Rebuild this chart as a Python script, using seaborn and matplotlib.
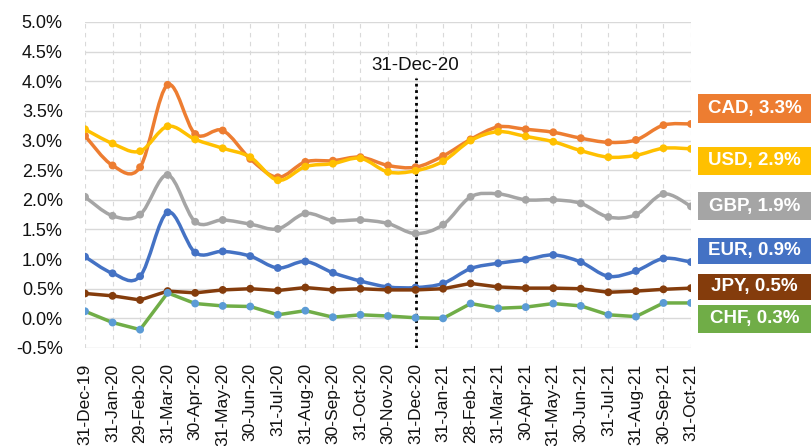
import numpy as np
import pandas as pd
import matplotlib
matplotlib.use("Agg")
import matplotlib.pyplot as plt
from matplotlib.path import Path
from matplotlib.patches import PathPatch, Rectangle
import seaborn as sns

dates = ["31-Dec-19", "31-Jan-20", "29-Feb-20", "31-Mar-20", "30-Apr-20", "31-May-20",
         "30-Jun-20", "31-Jul-20", "31-Aug-20", "30-Sep-20", "31-Oct-20", "30-Nov-20",
         "31-Dec-20", "31-Jan-21", "28-Feb-21", "31-Mar-21", "30-Apr-21", "31-May-21",
         "30-Jun-21", "31-Jul-21", "31-Aug-21", "30-Sep-21", "31-Oct-21"]

cad = [3.08, 2.58, 2.55, 3.94, 3.11, 3.17, 2.69, 2.38, 2.64, 2.66, 2.72, 2.58,
       2.55, 2.74, 3.02, 3.23, 3.19, 3.14, 3.04, 2.97, 3.01, 3.26, 3.28]
usd = [3.19, 2.95, 2.82, 3.24, 3.02, 2.87, 2.72, 2.33, 2.56, 2.61, 2.70, 2.47,
       2.49, 2.65, 3.00, 3.15, 3.07, 2.98, 2.83, 2.72, 2.75, 2.87, 2.86]
gbp = [2.05, 1.73, 1.75, 2.42, 1.63, 1.66, 1.59, 1.51, 1.77, 1.65, 1.66, 1.60,
       1.43, 1.58, 2.05, 2.10, 2.00, 2.00, 1.94, 1.71, 1.75, 2.10, 1.89]
eur = [1.04, 0.76, 0.71, 1.79, 1.11, 1.13, 1.05, 0.85, 0.96, 0.77, 0.63, 0.53,
       0.52, 0.59, 0.84, 0.93, 0.99, 1.07, 0.95, 0.71, 0.80, 1.01, 0.95]
jpy = [0.42, 0.38, 0.31, 0.46, 0.43, 0.48, 0.50, 0.47, 0.52, 0.48, 0.50, 0.48,
       0.48, 0.50, 0.59, 0.53, 0.51, 0.51, 0.50, 0.44, 0.46, 0.49, 0.51]
chf = [0.12, -0.07, -0.19, 0.43, 0.25, 0.21, 0.20, 0.06, 0.13, 0.02, 0.06, 0.04,
       0.01, 0.00, 0.25, 0.17, 0.19, 0.25, 0.21, 0.06, 0.03, 0.26, 0.26]

series_names = ["CAD", "USD", "GBP", "EUR", "JPY", "CHF"]
series_vals = [cad, usd, gbp, eur, jpy, chf]
end_labels = ["CAD, 3.3%", "USD, 2.9%", "GBP, 1.9%", "EUR, 0.9%", "JPY, 0.5%", "CHF, 0.3%"]
line_colors = ["#ED7D31", "#FFC000", "#A5A5A5", "#4472C4", "#843C0C", "#70AD47"]
marker_colors = ["#ED7D31", "#FFC000", "#A5A5A5", "#4472C4", "#843C0C", "#5B9BD5"]
smoothed = [True, True, True, True, False, False]
yticks = [-0.5, 0.0, 0.5, 1.0, 1.5, 2.0, 2.5, 3.0, 3.5, 4.0, 4.5, 5.0]
marker_date = "31-Dec-20"

sns.set_style("white")
plt.rcParams["font.family"] = ["Liberation Sans", "DejaVu Sans"]

W, H = 811, 446
fig = plt.figure(figsize=(W / 100, H / 100), dpi=100)
ax = fig.add_axes([85 / W, 1 - 348 / H, (691 - 85) / W, (348 - 22) / H])

x = np.arange(len(dates))
df = pd.DataFrame({"x": np.tile(x, len(series_names)),
                   "val": np.concatenate(series_vals),
                   "cur": np.repeat(series_names, len(dates))})


def smooth_path(xs, ys):
    pts = np.column_stack([xs, ys]).astype(float)
    n = len(pts)
    verts = [pts[0]]
    codes = [Path.MOVETO]
    for i in range(n - 1):
        p0 = pts[max(i - 1, 0)]
        p1 = pts[i]
        p2 = pts[i + 1]
        p3 = pts[min(i + 2, n - 1)]
        c1 = p1 + (p2 - p0) / 6.0
        c2 = p2 - (p3 - p1) / 6.0
        verts += [c1, c2, p2]
        codes += [Path.CURVE4] * 3
    return Path(verts, codes)


for k, name in enumerate(series_names):
    sub = df[df["cur"] == name]
    z = 3 + k
    if smoothed[k]:
        patch = PathPatch(smooth_path(sub["x"].values, sub["val"].values), facecolor="none",
                          edgecolor=line_colors[k], lw=2.5, zorder=z, capstyle="round",
                          joinstyle="round")
        ax.add_patch(patch)
    else:
        sns.lineplot(data=sub, x="x", y="val", ax=ax, color=line_colors[k], lw=2.5,
                     zorder=z, legend=False, estimator=None, sort=False)
    sns.scatterplot(data=sub, x="x", y="val", ax=ax, color=marker_colors[k], s=32,
                    edgecolor="none", zorder=z + 0.5, legend=False)

ax.set_xlim(0, len(dates) - 1)
ax.set_ylim(-0.5, 5.0)
ax.set_xticks(x)
ax.set_xticklabels(dates, rotation=90, fontsize=12.5, color="#111111")
ax.set_yticks(yticks)
ax.set_yticklabels([f"{v:.1f}%" for v in yticks], fontsize=13, color="#111111")
ax.tick_params(axis="x", length=0, pad=11)
ax.tick_params(axis="y", length=0, pad=16)
ax.set_xlabel("")
ax.set_ylabel("")
for s in ax.spines.values():
    s.set_visible(False)

ax.grid(False)
for v in yticks:
    ax.axhline(v, color="#D9D9D9", lw=1.0, zorder=1)
for xi in x:
    ax.axvline(xi, color="#D9D9D9", lw=0.8, ls=(0, (4, 4)), zorder=1)

mi = dates.index(marker_date)
ax.vlines(mi, -0.5, 4.05, colors="black", linestyles=(0, (1, 1.3)), lw=2.0, zorder=2)
ax.text(mi, 4.26, marker_date, ha="center", va="center", fontsize=13.5, color="#111111",
        zorder=10, bbox=dict(facecolor="white", edgecolor="none", pad=2))

boxes = [(94, 123), (147, 175), (192, 220), (238, 264), (274, 300), (305, 333)]
bx0, bx1 = 698, 811
for k, (t, b) in enumerate(boxes):
    rect = Rectangle((bx0 / W, 1 - b / H), (bx1 - bx0) / W, (b - t) / H,
                     transform=fig.transFigure, facecolor=line_colors[k], edgecolor="none")
    fig.patches.append(rect)
    fig.text((bx0 + bx1) / 2 / W, 1 - (t + b) / 2 / H, end_labels[k], ha="center",
             va="center", color="white", fontsize=13.5, fontweight="bold")

fig.savefig("out.png", dpi=100)
